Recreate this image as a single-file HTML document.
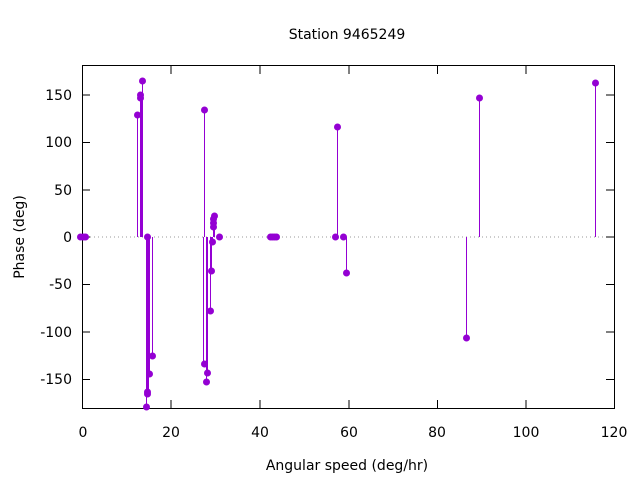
<!DOCTYPE html>
<html><head><style>body{margin:0;background:#fff}svg{display:block}text{font-family:"DejaVu Sans","Liberation Sans",sans-serif;font-size:14px;fill:#000}</style></head>
<body>
<svg width="640" height="480" viewBox="0 0 640 480">
<rect width="640" height="480" fill="#fff"/>
<text x="347" y="39" text-anchor="middle">Station 9465249</text>
<line x1="82" y1="237" x2="614" y2="237" stroke="#999" stroke-width="1" stroke-dasharray="1,3"/>
<g stroke="#000" stroke-width="1">
<rect x="82.5" y="65.5" width="532" height="343" fill="none"/>
<path d="M82 95h8M82 142.5h8M82 190h8M82 237h8M82 284.5h8M82 332h8M82 379.5h8M614 95h-8M614 142.5h-8M614 190h-8M614 237h-8M614 284.5h-8M614 332h-8M614 379.5h-8"/>
<path d="M82.5 408v-8M171 408v-8M260 408v-8M349 408v-8M437.5 408v-8M526 408v-8M614.5 408v-8M82.5 66v8M171 66v8M260 66v8M349 66v8M437.5 66v8M526 66v8M614.5 66v8"/>
</g>
<g text-anchor="end">
<text x="72" y="100">150</text><text x="72" y="147">100</text><text x="72" y="195">50</text><text x="72" y="242">0</text><text x="72" y="289">-50</text><text x="72" y="337">-100</text><text x="72" y="384">-150</text>
</g>
<g text-anchor="middle">
<text x="83" y="437">0</text><text x="171" y="437">20</text><text x="260" y="437">40</text><text x="349" y="437">60</text><text x="437" y="437">80</text><text x="526" y="437">100</text><text x="614" y="437">120</text>
</g>
<text x="347" y="470" text-anchor="middle">Angular speed (deg/hr)</text>
<text transform="translate(24,237) rotate(-90)" text-anchor="middle">Phase (deg)</text>
<g stroke="#9400d3" stroke-width="1">
<path d="M137.5 237V115M140.5 237V95M141.5 237V98M142.5 237V81M146.5 237V407M147.5 237V392M148.5 237V394M149.5 237V374M152.5 237V356M204.5 237V110M203.5 237V364M206.5 237V382M207.5 237V373M210.5 237V311M211.5 237V271M212.5 237V242M213.5 237V223M214.5 237V216M337.5 237V127M346.5 237V273M466.5 237V338M479.5 237V98M595.5 237V83"/>
</g>
<g fill="#9400d3">
<circle cx="80.5" cy="237" r="3.5"/><circle cx="83.5" cy="237" r="3.5"/><circle cx="85.5" cy="237" r="3.5"/>
<circle cx="137.5" cy="115" r="3.5"/><circle cx="140.5" cy="95" r="3.5"/><circle cx="140.5" cy="98" r="3.5"/><circle cx="142.5" cy="81" r="3.5"/>
<circle cx="147.5" cy="237" r="3.5"/><circle cx="146.5" cy="407" r="3.5"/><circle cx="147.5" cy="392" r="3.5"/><circle cx="147.5" cy="394" r="3.5"/><circle cx="149.5" cy="374" r="3.5"/><circle cx="152.5" cy="356" r="3.5"/>
<circle cx="204.5" cy="110" r="3.5"/><circle cx="204.5" cy="364" r="3.5"/><circle cx="206.5" cy="382" r="3.5"/><circle cx="207.5" cy="373" r="3.5"/><circle cx="210.5" cy="311" r="3.5"/><circle cx="211.5" cy="271" r="3.5"/><circle cx="212.5" cy="242" r="3.5"/><circle cx="213.5" cy="227" r="3.5"/><circle cx="213.5" cy="223" r="3.5"/><circle cx="213.5" cy="219" r="3.5"/><circle cx="214.5" cy="216" r="3.5"/><circle cx="219.5" cy="237" r="3.5"/>
<circle cx="270.5" cy="237" r="3.5"/><circle cx="272.5" cy="237" r="3.5"/><circle cx="274.5" cy="237" r="3.5"/><circle cx="276.5" cy="237" r="3.5"/>
<circle cx="335.5" cy="237" r="3.5"/><circle cx="337.5" cy="127" r="3.5"/><circle cx="343.5" cy="237" r="3.5"/><circle cx="346.5" cy="273" r="3.5"/>
<circle cx="466.5" cy="338" r="3.5"/><circle cx="479.5" cy="98" r="3.5"/><circle cx="595.5" cy="83" r="3.5"/>
</g>
</svg>
</body></html>
